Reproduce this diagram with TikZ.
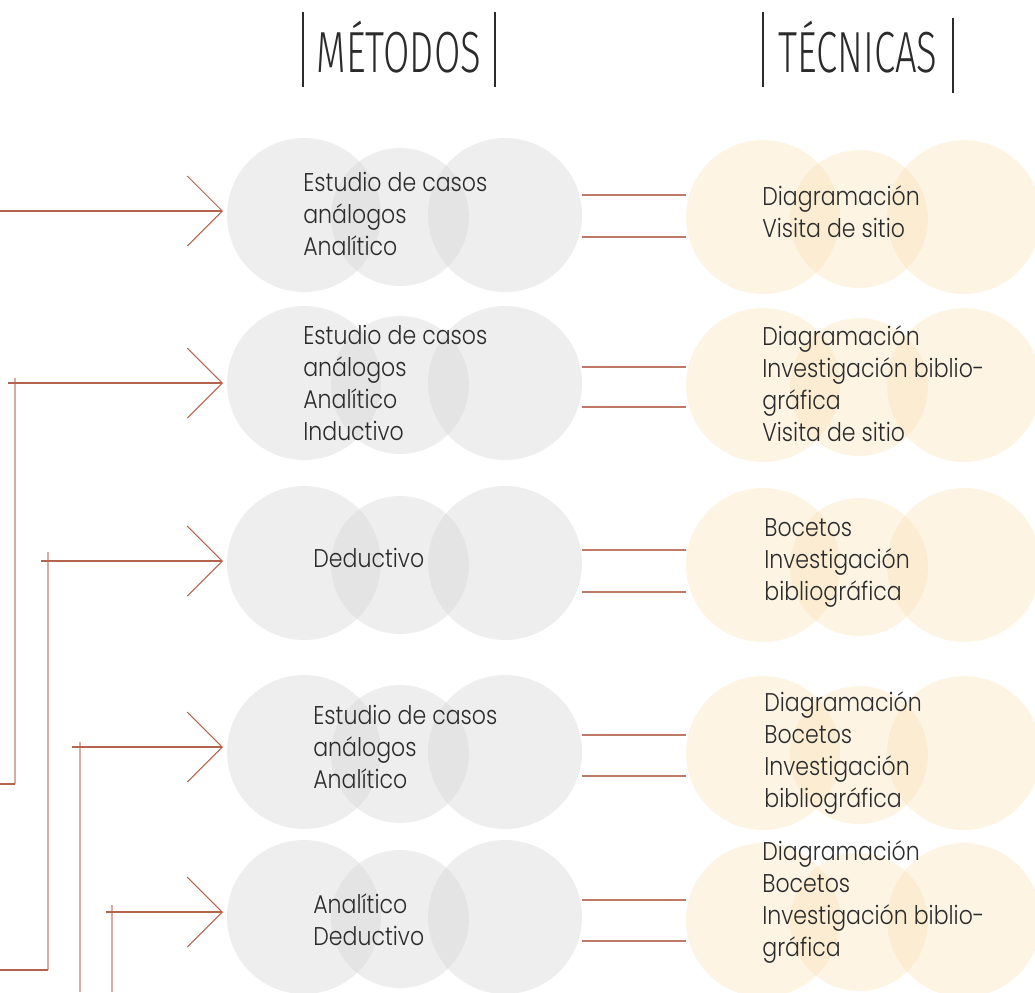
\documentclass[tikz,border=0pt]{standalone}
\usepackage{fontspec}
\setmainfont{Poppins Light}[FakeStretch=0.86]
\newfontfamily\headfont{Fira Sans Light}[FakeStretch=0.66]
\usetikzlibrary{arrows.meta}

\definecolor{linered}{HTML}{B4634C}
\definecolor{linepale}{HTML}{D6ADA1}
\definecolor{metgray}{RGB}{213,214,213}
\definecolor{tecsand}{RGB}{250,228,187}
\definecolor{ink}{HTML}{2B2B2B}

\tikzstyle{metbig}=[circle,fill=metgray,fill opacity=0.41,inner sep=0pt,minimum size=3.08cm]
\tikzstyle{metsmall}=[circle,fill=metgray,fill opacity=0.41,inner sep=0pt,minimum size=2.76cm]
\tikzstyle{tecbig}=[circle,fill=tecsand,fill opacity=0.41,inner sep=0pt,minimum size=3.08cm]
\tikzstyle{tecsmall}=[circle,fill=tecsand,fill opacity=0.41,inner sep=0pt,minimum size=2.76cm]
\tikzstyle{label}=[anchor=base west,inner sep=0pt,align=left,text=ink,font=\fontsize{14.6}{18.1}\selectfont]
\tikzstyle{head}=[inner sep=0pt,text=ink,font=\headfont\fontsize{33}{33}\selectfont]
\tikzstyle{bar}=[draw=ink,line width=0.7pt]
\tikzstyle{feed}=[draw=linered,line width=0.6pt,-{Straight Barb[length=0.7cm,width=1.4cm,line width=0.6pt]}]
\tikzstyle{rail}=[draw=linepale,line width=1.1pt]
\tikzstyle{foot}=[draw=linered,line width=0.6pt]
\tikzstyle{link}=[draw=linered!85,line width=0.7pt]

\begin{document}
\begin{tikzpicture}[x=0.02cm,y=-0.02cm]
   \useasboundingbox (0,0) rectangle (1035,992);

   % headers
   \node[head,anchor=base] (met) at (399,72) {MÉTODOS};
   \node[head,anchor=base] (tec) at (858,72) {TÉCNICAS};
   \draw[bar] (303,12) -- (303,87);
   \draw[bar] (495,12) -- (495,87);
   \draw[bar] (763,12) -- (763,87);
   \draw[bar] (953,18) -- (953,93);

   % metodos
   \node[metbig] (m1a) at (304,215) {};
   \node[metsmall] (m1b) at (400,217) {};
   \node[metbig] (m1c) at (505,215) {};
   \node[metbig] (m2a) at (304,383) {};
   \node[metsmall] (m2b) at (400,385) {};
   \node[metbig] (m2c) at (505,383) {};
   \node[metbig] (m3a) at (304,563) {};
   \node[metsmall] (m3b) at (400,565) {};
   \node[metbig] (m3c) at (505,563) {};
   \node[metbig] (m4a) at (304,752) {};
   \node[metsmall] (m4b) at (400,754) {};
   \node[metbig] (m4c) at (505,752) {};
   \node[metbig] (m5a) at (304,917) {};
   \node[metsmall] (m5b) at (400,919) {};
   \node[metbig] (m5c) at (505,917) {};

   % tecnicas
   \node[tecbig] (t1a) at (763,217) {};
   \node[tecsmall] (t1b) at (859,219) {};
   \node[tecbig] (t1c) at (964,217) {};
   \node[tecbig] (t2a) at (763,385) {};
   \node[tecsmall] (t2b) at (859,387) {};
   \node[tecbig] (t2c) at (964,385) {};
   \node[tecbig] (t3a) at (763,565) {};
   \node[tecsmall] (t3b) at (859,567) {};
   \node[tecbig] (t3c) at (964,565) {};
   \node[tecbig] (t4a) at (763,753) {};
   \node[tecsmall] (t4b) at (859,755) {};
   \node[tecbig] (t4c) at (964,753) {};
   \node[tecbig] (t5a) at (763,920) {};
   \node[tecsmall] (t5b) at (859,922) {};
   \node[tecbig] (t5c) at (964,920) {};

   % texts (anchored on the last baseline)
   \node[label] (m1txt) at (303,255) {Estudio de casos\\análogos\\Analítico};
   \node[label] (m2txt) at (303,440) {Estudio de casos\\análogos\\Analítico\\Inductivo};
   \node[label] (m3txt) at (313,567) {Deductivo};
   \node[label] (m4txt) at (313,788) {Estudio de casos\\análogos\\Analítico};
   \node[label] (m5txt) at (313,945) {Analítico\\Deductivo};

   \node[label] (t1txt) at (762,237) {Diagramación\\Visita de sitio};
   \node[label] (t2txt) at (762,441) {Diagramación\\Investigación biblio-\\gráfica\\Visita de sitio};
   \node[label] (t3txt) at (764,600) {Bocetos\\Investigación\\bibliográfica};
   \node[label] (t4txt) at (764,807) {Diagramación\\Bocetos\\Investigación\\bibliográfica};
   \node[label] (t5txt) at (762,956) {Diagramación\\Bocetos\\Investigación biblio-\\gráfica};

   % left wiring
   \coordinate (s1) at (0,211);   \coordinate (h1) at (223,211);
   \coordinate (s2) at (8,383);   \coordinate (h2) at (223,383);
   \coordinate (s3) at (41,561);  \coordinate (h3) at (223,561);
   \coordinate (s4) at (72,747);  \coordinate (h4) at (223,747);
   \coordinate (s5) at (106,912); \coordinate (h5) at (223,912);

   \coordinate (r2top) at (15,378); \coordinate (r2bot) at (15,784); \coordinate (r2end) at (0,784);
   \coordinate (r3top) at (48,552); \coordinate (r3bot) at (48,970); \coordinate (r3end) at (0,970);
   \coordinate (r4top) at (80,742); \coordinate (r4bot) at (80,992);
   \coordinate (r5top) at (112,905); \coordinate (r5bot) at (112,992);

   \draw[rail] (r2top) -- (r2bot);
   \draw[foot] (r2bot) -- (r2end);
   \draw[rail] (r3top) -- (r3bot);
   \draw[foot] (r3bot) -- (r3end);
   \draw[rail] (r4top) -- (r4bot);
   \draw[rail] (r5top) -- (r5bot);

   \draw[feed] (s1) -- (h1);
   \draw[feed] (s2) -- (h2);
   \draw[feed] (s3) -- (h3);
   \draw[feed] (s4) -- (h4);
   \draw[feed] (s5) -- (h5);

   % links metodos -> tecnicas
   \draw[link] ([yshift=0.4cm]m1c.east) -- ([yshift=0.4cm]m1c.east -| t1a.west);
   \draw[link] ([yshift=-0.44cm]m1c.east) -- ([yshift=-0.44cm]m1c.east -| t1a.west);
   \draw[link] ([yshift=0.32cm]m2c.east) -- ([yshift=0.32cm]m2c.east -| t2a.west);
   \draw[link] ([yshift=-0.48cm]m2c.east) -- ([yshift=-0.48cm]m2c.east -| t2a.west);
   \draw[link] ([yshift=0.26cm]m3c.east) -- ([yshift=0.26cm]m3c.east -| t3a.west);
   \draw[link] ([yshift=-0.58cm]m3c.east) -- ([yshift=-0.58cm]m3c.east -| t3a.west);
   \draw[link] ([yshift=0.34cm]m4c.east) -- ([yshift=0.34cm]m4c.east -| t4a.west);
   \draw[link] ([yshift=-0.48cm]m4c.east) -- ([yshift=-0.48cm]m4c.east -| t4a.west);
   \draw[link] ([yshift=0.34cm]m5c.east) -- ([yshift=0.34cm]m5c.east -| t5a.west);
   \draw[link] ([yshift=-0.48cm]m5c.east) -- ([yshift=-0.48cm]m5c.east -| t5a.west);

\end{tikzpicture}
\end{document}
